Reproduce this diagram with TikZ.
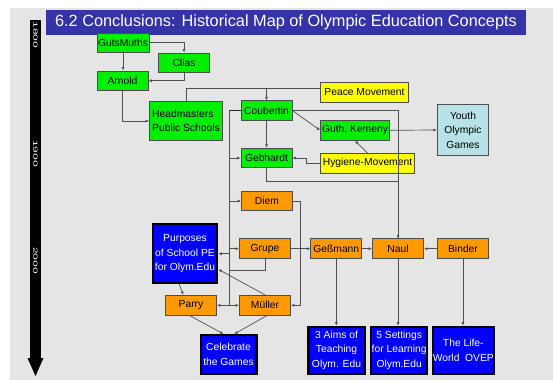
\documentclass[tikz,border=0pt]{standalone}
\usepackage{fontspec}
\setmainfont{Liberation Sans}
\usetikzlibrary{arrows.meta}

\definecolor{bggray}{RGB}{229,229,229}
\definecolor{titleblue}{RGB}{52,52,168}
\definecolor{boxgreen}{RGB}{0,238,0}
\definecolor{boxorange}{RGB}{255,153,0}
\definecolor{boxyellow}{RGB}{255,255,0}
\definecolor{boxblue}{RGB}{0,0,255}
\definecolor{boxcyan}{RGB}{183,226,232}
\definecolor{linegray}{RGB}{80,80,80}

\begin{document}
\begin{tikzpicture}[
    x=1pt, y=-1pt,
    box/.style={draw=black!70, line width=0.8pt, minimum height=19.5pt, minimum width=51pt,
                inner sep=1pt, font=\fontsize{10.3}{14.5}\selectfont, align=center, fill=#1},
    box/.default=boxgreen,
    bluebox/.style={draw=black, line width=2.2pt, fill=boxblue, text=white,
                inner sep=0pt, font=\fontsize{10.3}{14.5}\selectfont, align=center},
    arrow/.style={-{Latex[length=3.5pt,width=3pt]}, linegray, line width=0.7pt},
    link/.style={linegray, line width=0.7pt},
    yearlabel/.style={rotate=-90, yscale=0.5, text=white, inner sep=0pt,
                font=\fontsize{12}{12}\selectfont},
]
    % Page
    \useasboundingbox (0,0) rectangle (553,380);
    \fill[white] (0,0) rectangle (553,380);
    \fill[bggray] (10,8) rectangle (553,380);

    % Title
    \node[fill=titleblue, text=white, minimum width=480pt, minimum height=25pt,
          font=\fontsize{16.3}{18}\selectfont] (title) at (286,22.5)
        {6.2 Conclusions: Historical Map of Olympic Education Concepts};

    % Time axis
    \fill[black] (30,20) rectangle (41,359);
    \fill[black] (27.5,358) -- (43.5,358) -- (35.5,376) -- cycle;
    \node[yearlabel] (y1800) at (35.5,35) {1800};
    \node[yearlabel] (y1900) at (35.5,153.5) {1900};
    \node[yearlabel] (y2000) at (35.5,260.5) {2000};

    % Early concepts
    \node[box] (guts) at (123,42.7) {GutsMuths};
    \node[box] (clias) at (184,62.7) {Clias};
    \node[box] (arnold) at (122.5,80.7) {Arnold};
    \node[box, align=left, minimum width=73pt, minimum height=39pt] (head) at (186,121)
        {Headmasters\\Public Schools};

    % Coubertin and movements
    \node[box] (coubertin) at (266.5,110.5) {Coubertin};
    \node[box] (gebhardt) at (266.5,158) {Gebhardt};
    \node[box=boxyellow, minimum width=88pt, minimum height=20pt] (peace) at (364.5,92.5) {Peace Movement};
    \node[box, minimum width=69pt, minimum height=20pt] (guth) at (355,130.3) {Guth, Kemeny};
    \node[box=boxyellow, minimum width=94pt] (hygiene) at (367.5,163.3) {Hygiene-Movement};
    \node[box=boxcyan, draw=linegray, line width=1.2pt, minimum width=51pt, minimum height=51pt]
        (youth) at (463,130) {Youth\\Olympic\\Games};

    % Orange concepts
    \node[box=boxorange] (diem) at (267,201) {Diem};
    \node[box=boxorange, minimum height=20pt] (grupe) at (265,248.7) {Grupe};
    \node[box=boxorange, minimum height=20pt] (parry) at (191,305.3) {Parry};
    \node[box=boxorange, minimum height=20pt] (mueller) at (265,305.3) {Müller};
    \node[box=boxorange, minimum height=20pt] (gessmann) at (336.3,248.7) {Geßmann};
    \node[box=boxorange, minimum height=20pt] (naul) at (398,248.7) {Naul};
    \node[box=boxorange, minimum height=20pt] (binder) at (463,248.7) {Binder};

    % Blue results
    \node[bluebox, minimum width=64.4pt, minimum height=58.8pt] (purposes) at (185,253.7)
        {Purposes\\of School PE\\for Olym.Edu};
    \node[bluebox, minimum width=55.8pt, minimum height=38.8pt] (celebrate) at (228.5,354.5)
        {Celebrate\\the Games};
    \node[bluebox, minimum width=56.2pt, minimum height=47.1pt] (aims) at (336.5,350.3)
        {3 Aims of\\Teaching\\Olym. Edu};
    \node[bluebox, minimum width=56.1pt, minimum height=47.1pt] (settings) at (399.2,350.3)
        {5 Settings\\for Learning\\Olym.Edu};
    \node[bluebox, minimum width=57.8pt, minimum height=47.1pt] (life) at (463.3,350.3)
        {The Life-\\World\ \ OVEP};

    % Arrows among early concepts
    \draw[arrow] (guts.east) -| (clias.north);
    \draw[arrow] (guts.south) -- (guts.south |- arnold.north);
    \draw[arrow] (clias.south) |- (arnold.east);
    \draw[arrow] (arnold.south) |- (head.west);

    % Headmasters and Peace Movement into Coubertin
    \coordinate (pm) at ([yshift=4.3pt]peace.west);
    \draw[link] (head.north) |- (pm);
    \draw[arrow] (coubertin.north |- pm) -- (coubertin.north);

    % Coubertin spine
    \coordinate (spine) at (229,110.5);
    \draw[black!85, line width=1.6pt] (coubertin.west) -- (spine);
    \draw[link, line width=1pt] (spine) -- (spine |- parry.east);
    \draw[arrow] (spine |- gebhardt.west) -- (gebhardt.west);
    \draw[arrow] (spine |- diem.west) -- (diem.west);
    \draw[arrow] (spine |- grupe.west) -- (grupe.west);
    \draw[arrow] (spine |- purposes.east) -- (purposes.east);
    \draw[arrow] (spine |- parry.east) -- (parry.east);
    \draw[arrow] (spine |- mueller.west) -- (mueller.west);
    \draw[link] (grupe.south) -- ++(0,11) -- +(-36,0);

    % Coubertin to the right
    \draw[arrow] (coubertin.east) -| (naul.north);
    \draw[arrow] (coubertin.east) -- (guth.west);
    \draw[arrow] (coubertin.south) -- (gebhardt.north);
    \draw[link] (gebhardt.south) -- ++(0,12.7) -| (naul.north);
    \draw[arrow] (hygiene.west) -- ++(-14,0) |- (gebhardt.east);
    \draw[arrow] (hygiene.north) -- (guth.south);
    \draw[arrow] (guth.east) -- (youth.west);

    % Orange chain
    \draw[arrow] (diem.east) -- ++(7,0) |- (mueller.east);
    \draw[arrow] (grupe.east) -- (gessmann.west);
    \draw[arrow] (gessmann.east) -- (naul.west);
    \draw[arrow] (binder.west) -- (naul.east);

    % Down to the results
    \draw[arrow] (gessmann.south) -- (gessmann.south |- aims.north);
    \draw[arrow] (naul.south) -- (naul.south |- settings.north);
    \draw[arrow] (binder.south) -- (binder.south |- life.north);
    \draw[arrow] ([xshift=-5.7pt]purposes.south) -- ([xshift=-7.7pt]parry.north);
    \draw[arrow] (mueller.north) -- ([yshift=-15.6pt]purposes.east);
    \draw[arrow] ([xshift=-1pt]parry.south) -- ([xshift=-5pt]celebrate.north);
    \draw[arrow] ([xshift=1.7pt]mueller.south) -- ([xshift=5.8pt]celebrate.north);
\end{tikzpicture}
\end{document}
